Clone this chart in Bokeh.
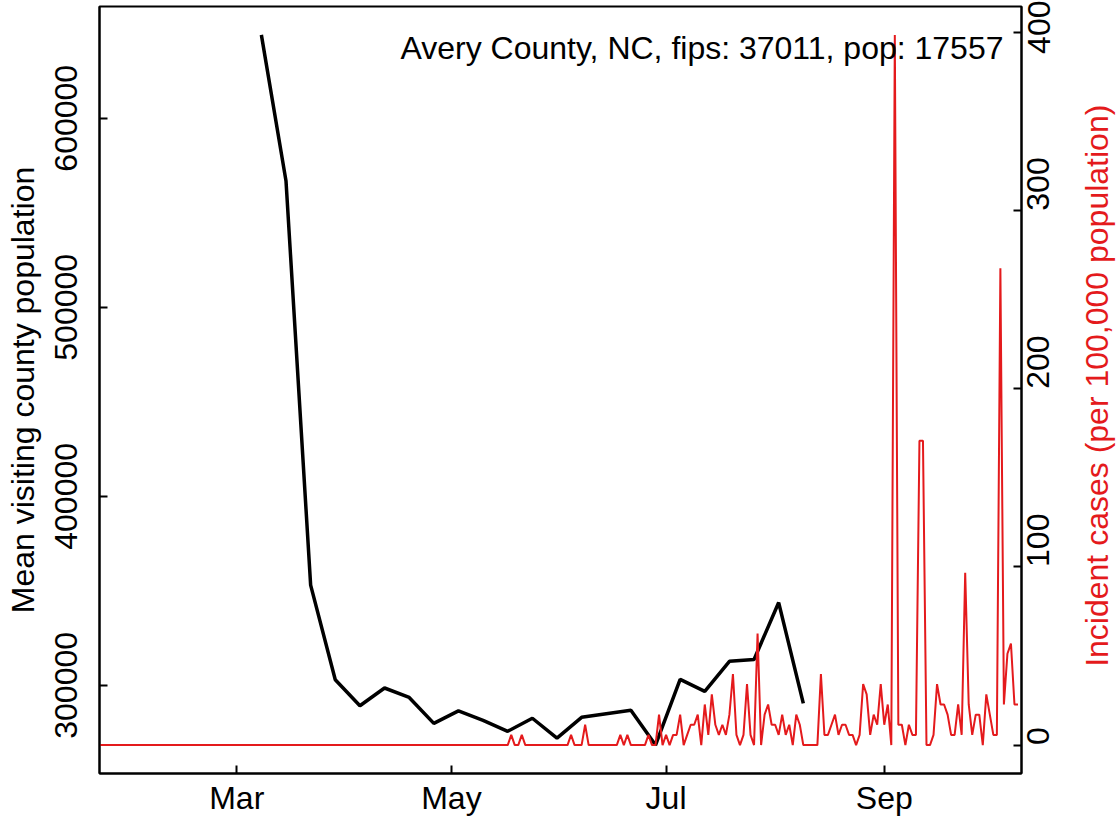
import math
import pandas as pd
from bokeh.plotting import figure
from bokeh.models import Range1d, LinearAxis, FixedTicker, DatetimeTickFormatter, Label, ColumnDataSource
from bokeh.embed import file_html
from bokeh.resources import INLINE

# ---------------- data ----------------
title_text = "Avery County, NC, fips: 37011, pop: 17557"
left_label = "Mean visiting county population"
right_label = "Incident cases (per 100,000 population)"

mobility_start = "2020-03-08"   # weekly values
mobility_values = [644100, 566800, 353000, 303000, 289200, 298600, 293600, 279900,
                   286500, 281500, 275700, 282600, 272100, 283100, 285000, 286800,
                   268400, 303200, 296800, 312700, 313700, 343800, 290500]

cases_start = "2020-01-22"      # daily values, per 100,000 population
cases_values = ([0.0] * 117 + [
    5.7, 0, 0, 5.7, 0, 0, 0, 0, 0, 0, 0, 0, 0, 0, 0, 0, 0,          # 117-133
    5.7, 0, 0, 0, 11.4, 0, 0, 0, 0, 0, 0, 0, 0, 0,                  # 134-147
    5.7, 0, 5.7, 0, 0, 0, 0, 0, 5.7, 0, 0, 17.1,                    # 148-159
    0, 5.7, 0, 5.7, 5.7, 17.1, 0, 5.7, 11.4, 11.4,                  # 160-169
    17.1, 0, 22.8, 5.7, 28.5, 11.4, 5.7, 11.4, 5.7, 17.1,           # 170-179
    39.9, 5.7, 0, 5.7, 34.2, 5.7, 0, 62.7, 0, 17.1,                 # 180-189
    22.8, 11.4, 11.4, 5.7, 17.1, 5.7, 11.4, 0, 17.1, 11.4,          # 190-199
    0, 0, 0, 0, 0, 39.9, 5.7, 5.7, 11.4, 17.1,                      # 200-209
    5.7, 11.4, 11.4, 5.7, 5.7, 0, 5.7, 34.2, 28.5, 5.7,             # 210-219
    17.1, 11.4, 34.2, 11.4, 22.8, 0, 398.7, 11.4, 11.4, 0,          # 220-229
    11.4, 5.7, 5.7, 170.9, 170.9, 0, 0, 5.7, 34.2, 22.8,            # 230-239
    22.8, 17.1, 5.7, 5.7, 22.8, 5.7, 96.8, 22.8, 5.7, 17.1,         # 240-249
    17.1, 0, 28.5, 17.1, 5.7, 5.7, 267.7, 22.8, 51.3, 57.0,         # 250-259
    22.8, 22.8])                                                    # 260-261

month_ticks = ["2020-03-01", "2020-05-01", "2020-07-01", "2020-09-01"]
left_ticks = [300000, 400000, 500000, 600000]
right_ticks = [0, 100, 200, 300, 400]
x_start, x_end = "2020-01-22", "2020-10-10"

# ---------------- derived ----------------
mob_dates = pd.date_range(mobility_start, periods=len(mobility_values), freq="7D")
case_dates = pd.date_range(cases_start, periods=len(cases_values), freq="D")

def r_range(vals):
    lo, hi = min(vals), max(vals)
    span = hi - lo
    return lo - 0.04 * span, hi + 0.04 * span

l_lo, l_hi = r_range(mobility_values)
r_lo, r_hi = r_range(cases_values)

FONT = "Liberation Sans"
FS = "32px"
RED = "#E41A1C"
FRAME_W = 922

p = figure(x_axis_type="datetime", output_backend="svg", toolbar_location=None,
           frame_width=FRAME_W, frame_height=767,
           min_border_left=99, min_border_right=98, min_border_top=6, min_border_bottom=42,
           x_range=Range1d(pd.Timestamp(x_start), pd.Timestamp(x_end)),
           y_range=Range1d(l_lo, l_hi))
p.extra_y_ranges = {"cases": Range1d(r_lo, r_hi)}

p.xgrid.visible = False
p.ygrid.visible = False
p.outline_line_color = "black"
p.outline_line_width = 2
p.outline_line_alpha = 1
p.background_fill_color = "white"
p.border_fill_color = "white"

src_m = ColumnDataSource(dict(date=mob_dates, v=mobility_values))
src_c = ColumnDataSource(dict(date=case_dates, v=cases_values))
p.line("date", "v", source=src_m, line_color="black", line_width=3.5)
p.line("date", "v", source=src_c, line_color=RED, line_width=2, y_range_name="cases")

# x axis
xa = p.xaxis[0]
xa.ticker = FixedTicker(ticks=[pd.Timestamp(t).value / 1e6 for t in month_ticks])
xa.formatter = DatetimeTickFormatter(months="%b", days="%b", hours="%b", minutes="%b",
                                     seconds="%b", milliseconds="%b", years="%b")
# left axis
ya = p.yaxis[0]
ya.ticker = FixedTicker(ticks=left_ticks)
ya.major_label_overrides = {t: str(t) for t in left_ticks}
ya.major_label_orientation = "vertical"
ya.axis_label = left_label

# right axis
ra = LinearAxis(y_range_name="cases", ticker=FixedTicker(ticks=right_ticks))
ra.major_label_overrides = {t: str(t) for t in right_ticks}
ra.major_label_orientation = math.pi / 2
p.add_layout(ra, "right")

for ax in (xa, ya, ra):
    ax.axis_line_color = "black"
    ax.axis_line_width = 2
    ax.major_tick_in = 8
    ax.major_tick_out = 0
    ax.major_tick_line_width = 2
    ax.minor_tick_line_color = None
    ax.major_label_text_font = FONT
    ax.major_label_text_font_size = FS
    ax.major_label_text_color = "black"
    ax.axis_label_text_font = FONT
    ax.axis_label_text_font_size = FS
    ax.axis_label_text_font_style = "normal"

xa.major_label_standoff = 6
ya.major_label_standoff = 22
ya.axis_label_standoff = 12
ra.major_label_standoff = 17
ya.axis_label_text_color = "black"

x0 = pd.Timestamp(x_start).value / 1e6
x1 = pd.Timestamp(x_end).value / 1e6

# right-axis title: reads bottom to top; anchored at the axis start and
# pushed up with non-breaking spaces so it sits centred like the reference
ra.axis_label = "\u00a0" * 12 + right_label
ra.axis_label_orientation = math.pi / 2
ra.axis_label_align = "start"
ra.axis_label_standoff = 33
ra.axis_label_text_color = RED

# county caption, top right inside the frame
p.add_layout(Label(x=x1 - (x1 - x0) * 18 / FRAME_W, y=391.6, y_range_name="cases",
                   text=title_text, text_align="right", text_baseline="middle",
                   text_font=FONT, text_font_size=FS, text_color="black"))

open("out.html", "w").write(file_html(p, INLINE))
